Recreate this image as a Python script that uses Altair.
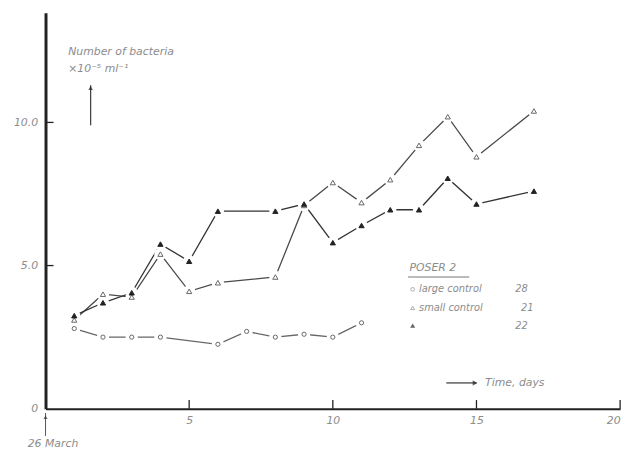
import altair as alt
import pandas as pd

# ---- data ----
days_large = [1, 2, 3, 4, 6, 7, 8, 9, 10, 11]
vals_large = [2.8, 2.5, 2.5, 2.5, 2.25, 2.7, 2.5, 2.6, 2.5, 3.0]

days_small = [1, 2, 3, 4, 5, 6, 8, 9, 10, 11, 12, 13, 14, 15, 17]
vals_small = [3.1, 4.0, 3.9, 5.4, 4.1, 4.4, 4.6, 7.1, 7.9, 7.2, 8.0, 9.2, 10.2, 8.8, 10.4]

days_poser = [1, 2, 3, 4, 5, 6, 8, 9, 10, 11, 12, 13, 14, 15, 17]
vals_poser = [3.25, 3.7, 4.05, 5.75, 5.15, 6.9, 6.9, 7.15, 5.8, 6.4, 6.95, 6.95, 8.05, 7.15, 7.6]

x_ticks = [0, 5, 10, 15, 20]
y_ticks = [0, 5, 10]
y_tick_labels = ["0", "5.0", "10.0"]

legend_title = "POSER 2"
legend_labels = ["large control", "small control", ""]
legend_counts = ["28", "21", "22"]

TXT = "#8c8c8c"
LINE = "#4a4a4a"
FONT = "DejaVu Sans"

xs = alt.Scale(domain=[0, 20], nice=False, zero=False)
ys = alt.Scale(domain=[0, 13.83], nice=False, zero=False)

large = pd.DataFrame({"d": days_large, "v": vals_large})
small = pd.DataFrame({"d": days_small, "v": vals_small})
poser = pd.DataFrame({"d": days_poser, "v": vals_poser})

label_expr = "datum.value == 0 ? '0' : (datum.value == 5 ? '5.0' : '10.0')"

X = alt.X("d:Q", scale=xs, axis=alt.Axis(values=x_ticks, ticks=False, grid=False, title=None,
          labelExpr="datum.value == 0 ? '' : datum.label", labelPadding=6,
          domainColor="#222", domainWidth=2, labelColor=TXT, labelFont=FONT,
          labelFontStyle="italic", labelFontSize=11))
Y = alt.Y("v:Q", scale=ys, axis=alt.Axis(values=y_ticks, ticks=False, grid=False, title=None,
          labelExpr=label_expr, labelPadding=8, domainColor="#222", domainWidth=3,
          labelColor=TXT, labelFont=FONT, labelFontStyle="italic", labelFontSize=11))


def series(df, shape, filled, size, lcol):
    line = alt.Chart(df).mark_line(color=lcol, strokeWidth=1.3).encode(x=X, y=Y)
    pts = alt.Chart(df).mark_point(shape=shape, filled=True, size=size,
                                   color="#222" if filled else "#666",
                                   fill="#222" if filled else "white",
                                   stroke="#222" if filled else "#666",
                                   strokeWidth=1, opacity=1, fillOpacity=1).encode(
        x=alt.X("d:Q", scale=xs), y=alt.Y("v:Q", scale=ys))
    return line, pts


lines, halos, marks = [], [], []
for df, shp, fl, sz, lc in [(large, "circle", False, 18, "#666"),
                            (small, "triangle-up", False, 28, LINE),
                            (poser, "triangle-up", True, 28, "#333")]:
    l, p = series(df, shp, fl, sz, lc)
    lines.append(l)
    marks.append(p)
    halos.append(alt.Chart(df).mark_point(shape="circle", filled=True, fill="white", color="white",
                                          stroke="white", size=110, opacity=1, fillOpacity=1).encode(
        x=alt.X("d:Q", scale=xs), y=alt.Y("v:Q", scale=ys)))

layers = lines + halos + marks

# axis ticks (inward)
xt = pd.DataFrame({"d": [5, 10, 15, 20], "v0": [0] * 4, "v1": [0.3] * 4})
layers.append(alt.Chart(xt).mark_rule(color="#222", strokeWidth=1.3).encode(
    x=alt.X("d:Q", scale=xs), y=alt.Y("v0:Q", scale=ys), y2="v1:Q"))
yt = pd.DataFrame({"v": [5, 10], "d0": [0, 0], "d1": [0.28, 0.28]})
layers.append(alt.Chart(yt).mark_rule(color="#222", strokeWidth=1.3).encode(
    y=alt.Y("v:Q", scale=ys), x=alt.X("d0:Q", scale=xs), x2="d1:Q"))

# arrow under origin + "26 March"
arr0 = pd.DataFrame({"d": [0], "v0": [-0.95], "v1": [-0.15]})
layers.append(alt.Chart(arr0).mark_rule(color="#555", strokeWidth=1).encode(
    x=alt.X("d:Q", scale=xs), y=alt.Y("v0:Q", scale=ys), y2="v1:Q"))
layers.append(alt.Chart(pd.DataFrame({"d": [0], "v": [-0.3]})).mark_point(
    shape="triangle-up", filled=True, color="#333", size=18).encode(
    x=alt.X("d:Q", scale=xs), y=alt.Y("v:Q", scale=ys)))

texts = pd.DataFrame({
    "d": [-0.62, 0.79, 0.79, 15.3, 12.67],
    "v": [-1.25, 12.45, 11.85, 0.9, 4.93],
    "t": ["26 March", "Number of bacteria", "×10⁻⁵ ml⁻¹", "Time, days", legend_title],
})
layers.append(alt.Chart(texts).mark_text(align="left", baseline="middle", font=FONT,
                                         fontStyle="italic", fontSize=11, color=TXT).encode(
    x=alt.X("d:Q", scale=xs), y=alt.Y("v:Q", scale=ys), text="t:N"))

# y-title arrow
ya = pd.DataFrame({"d": [1.57], "v0": [9.9], "v1": [11.3]})
layers.append(alt.Chart(ya).mark_rule(color="#444", strokeWidth=1.3).encode(
    x=alt.X("d:Q", scale=xs), y=alt.Y("v0:Q", scale=ys), y2="v1:Q"))
layers.append(alt.Chart(pd.DataFrame({"d": [1.57], "v": [11.2]})).mark_point(
    shape="triangle-up", filled=True, color="#222", size=22).encode(
    x=alt.X("d:Q", scale=xs), y=alt.Y("v:Q", scale=ys)))

# x-title arrow
xa = pd.DataFrame({"d0": [13.95], "d1": [15.0], "v": [0.9]})
layers.append(alt.Chart(xa).mark_rule(color="#444", strokeWidth=1.3).encode(
    x=alt.X("d0:Q", scale=xs), x2="d1:Q", y=alt.Y("v:Q", scale=ys)))
layers.append(alt.Chart(pd.DataFrame({"d": [14.95], "v": [0.9]})).mark_point(
    shape="triangle-right", filled=True, color="#222", size=30).encode(
    x=alt.X("d:Q", scale=xs), y=alt.Y("v:Q", scale=ys)))

# legend underline
lu = pd.DataFrame({"d0": [12.62], "d1": [14.75], "v": [4.6]})
layers.append(alt.Chart(lu).mark_rule(color="#777", strokeWidth=1).encode(
    x=alt.X("d0:Q", scale=xs), x2="d1:Q", y=alt.Y("v:Q", scale=ys)))

leg_v = [4.17, 3.52, 2.9]
leg = pd.DataFrame({"d": [12.78] * 3, "v": leg_v})
layers.append(alt.Chart(leg.iloc[[0]]).mark_point(shape="circle", filled=True, fill="white",
                                                  stroke="#888", size=14, strokeWidth=1).encode(
    x=alt.X("d:Q", scale=xs), y=alt.Y("v:Q", scale=ys)))
layers.append(alt.Chart(leg.iloc[[1]]).mark_point(shape="triangle-up", filled=True, fill="white",
                                                  stroke="#888", size=16, strokeWidth=1).encode(
    x=alt.X("d:Q", scale=xs), y=alt.Y("v:Q", scale=ys)))
layers.append(alt.Chart(leg.iloc[[2]]).mark_point(shape="triangle-up", filled=True, color="#222", size=26).encode(
    x=alt.X("d:Q", scale=xs), y=alt.Y("v:Q", scale=ys)))
legtxt = pd.DataFrame({"d": [13.0, 13.0], "v": leg_v[:2], "t": legend_labels[:2]})
layers.append(alt.Chart(legtxt).mark_text(align="left", baseline="middle", font=FONT, fontStyle="italic",
                                          fontSize=10, color=TXT).encode(
    x=alt.X("d:Q", scale=xs), y=alt.Y("v:Q", scale=ys), text="t:N"))
legcnt = pd.DataFrame({"d": [16.35, 16.55, 16.35], "v": leg_v, "t": legend_counts})
layers.append(alt.Chart(legcnt).mark_text(align="left", baseline="middle", font=FONT, fontStyle="italic",
                                          fontSize=10, color=TXT).encode(
    x=alt.X("d:Q", scale=xs), y=alt.Y("v:Q", scale=ys), text="t:N"))

chart = alt.layer(*layers).properties(
    width=582, height=401,
    autosize=alt.AutoSizeParams(type="none"),
    padding={"left": 38, "top": 2, "right": 9, "bottom": 40},
).configure(background="white").configure_view(stroke=None)

chart.save("out.html", embed_options={"renderer": "svg", "actions": False})
